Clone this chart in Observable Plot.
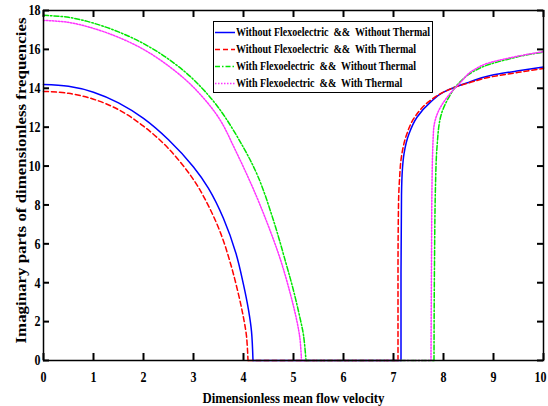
<!DOCTYPE html>
<html><head><meta charset="utf-8">
<script src="https://cdn.jsdelivr.net/npm/d3@7"></script>
<script src="https://cdn.jsdelivr.net/npm/@observablehq/plot@0.6"></script>
<style>
body{margin:0;background:#fff;}
#wrap{position:relative;width:548px;height:406px;overflow:hidden;}
#legend{position:absolute;left:213px;top:21px;width:220px;height:72px;border:1.5px solid #000;background:#fff;box-sizing:border-box;font-family:'Liberation Serif',serif;font-weight:bold;font-size:12px;}
.row{position:absolute;left:0;height:17px;line-height:17px;white-space:pre;}
.row svg{position:absolute;left:0;top:0;}
.row span{position:absolute;left:22px;top:0;display:inline-block;transform:scaleX(0.835);transform-origin:left center;}
</style></head><body><div id="wrap"></div>
<script>
// ---- data ----
const seriesNames = [
  "Without Flexoelectric  &&  Without Thermal",
  "Without Flexoelectric  &&  With Thermal",
  "With Flexoelectric  &&  Without Thermal",
  "With Flexoelectric  &&  With Thermal"
];
const xTicks = [0,1,2,3,4,5,6,7,8,9,10];
const yTicks = [0,2,4,6,8,10,12,14,16,18];

// Left branches (u, omega)
const blueLeftU  = [0, 0.5, 1, 1.5, 2, 2.5, 3.0, 3.3, 3.6, 3.85, 4.0, 4.1, 4.16, 4.19];
const blueLeftW  = [14.2, 14.1, 13.8, 13.25, 12.45, 11.35, 9.95, 8.85, 7.3, 5.5, 3.9, 2.6, 1.5, 0];
const redLeftU   = [0, 0.5, 1, 1.5, 2, 2.5, 3.0, 3.3, 3.55, 3.75, 3.9, 4.0, 4.06, 4.09];
const redLeftW   = [13.84, 13.74, 13.44, 12.9, 12.05, 10.9, 9.3, 7.95, 6.5, 4.9, 3.4, 2.2, 1.25, 0];
const greenLeftU = [0, 0.5, 1, 1.5, 2, 2.5, 3.0, 3.5, 4.0, 4.3, 4.6, 4.85, 5.0, 5.12, 5.2, 5.25];
const greenLeftW = [17.75, 17.65, 17.35, 16.9, 16.3, 15.5, 14.45, 13.0, 10.95, 9.4, 7.2, 5.0, 3.6, 2.3, 1.3, 0];
const magLeftU   = [0, 0.5, 1, 1.5, 2, 2.5, 3.0, 3.5, 3.85, 4.2, 4.5, 4.75, 4.95, 5.07, 5.13, 5.16];
const magLeftW   = [17.49, 17.39, 17.08, 16.62, 16.0, 15.15, 14.05, 12.5, 10.75, 8.8, 6.9, 5.1, 3.3, 2.0, 1.1, 0];

// Right branches (u, omega)
const blueRightU  = [7.15, 7.15, 7.16, 7.18, 7.21, 7.31, 7.47, 7.74, 8.0, 8.25, 8.5, 8.94, 9.5, 10];
const blueRightW  = [0, 4.5, 8.5, 9.9, 10.63, 11.66, 12.51, 13.29, 13.8, 14.08, 14.3, 14.66, 14.9, 15.09];
const redRightU   = [7.09, 7.09, 7.1, 7.12, 7.16, 7.26, 7.42, 7.7, 8.0, 8.25, 8.5, 8.94, 9.5, 10];
const redRightW   = [0, 4.5, 8.0, 9.3, 10.5, 11.6, 12.5, 13.3, 13.8, 14.08, 14.27, 14.58, 14.82, 15.02];
const greenRightU = [7.81, 7.82, 7.84, 7.87, 7.94, 8.11, 8.25, 8.4, 8.61, 8.94, 9.3, 9.61, 10];
const greenRightW = [0, 5.0, 9.0, 10.97, 12.51, 13.55, 14.1, 14.5, 14.88, 15.25, 15.5, 15.69, 15.86];
const magRightU   = [7.75, 7.76, 7.77, 7.8, 7.94, 8.14, 8.34, 8.61, 8.94, 9.3, 9.61, 10];
const magRightW   = [0, 5.0, 9.0, 11.8, 13.03, 13.75, 14.3, 14.95, 15.33, 15.55, 15.71, 15.88];

// ---- styles ----
const seriesColors = ["#0000ff", "#ff0000", "#00e600", "#ff33ff"];
const seriesDash = [null, "5,3", "5,2,1.5,2", "1.5,1.5"];

const branches = [
  [blueLeftU, blueLeftW, blueRightU, blueRightW],
  [redLeftU, redLeftW, redRightU, redRightW],
  [greenLeftU, greenLeftW, greenRightU, greenRightW],
  [magLeftU, magLeftW, magRightU, magRightW]
];

const marks = [];
branches.forEach(([lu, lw, ru, rw], i) => {
  const left = lu.map((u, k) => ({u, w: lw[k]}));
  const right = ru.map((u, k) => ({u, w: rw[k]}));
  const zero = [left[left.length - 1], right[0]];
  const st = {x: "u", y: "w", stroke: seriesColors[i], strokeWidth: 1.5, strokeDasharray: seriesDash[i]};
  marks.push(Plot.line(zero, {...st, curve: "linear"}));
  marks.push(Plot.line(left, {...st, curve: "catmull-rom"}));
  marks.push(Plot.line(right, {...st, curve: "monotone-y"}));
});

const W = 548, H = 406, mL = 43, mR = 5, mT = 10, mB = 46;
const pw = W - mL - mR, ph = H - mT - mB;

const chart = Plot.plot({
  width: W, height: H,
  marginLeft: mL, marginRight: mR, marginTop: mT, marginBottom: mB,
  style: {fontFamily: "'Liberation Serif', serif", fontWeight: "bold", fontSize: "15px", background: "white", color: "black", overflow: "visible"},
  x: {domain: [0, 10]},
  y: {domain: [0, 18]},
  marks: [
    ...marks,
    Plot.gridX({ticks: xTicks, stroke: "black", strokeOpacity: 1, strokeWidth: 2, insetTop: ph - 7}),
    Plot.gridX({ticks: xTicks, stroke: "black", strokeOpacity: 1, strokeWidth: 2, insetBottom: ph - 7}),
    Plot.gridY({ticks: yTicks, stroke: "black", strokeOpacity: 1, strokeWidth: 2, insetRight: pw - 6}),
    Plot.gridY({ticks: yTicks, stroke: "black", strokeOpacity: 1, strokeWidth: 2, insetLeft: pw - 6}),
    Plot.frame({stroke: "black", strokeWidth: 1.5}),
    Plot.axisX({ticks: xTicks, tickSize: 0, tickPadding: 11, label: "Dimensionless mean flow velocity", labelAnchor: "center", labelArrow: "none", labelOffset: 42}),
    Plot.axisY({ticks: yTicks, tickSize: 0, tickPadding: 3, label: "Imaginary parts of dimensionless frequencies", labelAnchor: "center", labelArrow: "none", labelOffset: 28})
  ]
});

const wrap = document.getElementById("wrap");
wrap.appendChild(chart);

// horizontally condensed text, as in the reference
const xt = chart.querySelectorAll('g[aria-label="x-axis tick label"] text');
chart.querySelectorAll('g[aria-label="x-axis tick label"] text, g[aria-label="y-axis tick label"] text').forEach(t => {
  const len = t.getComputedTextLength();
  if (len > 0) { t.setAttribute("textLength", (len * 0.8).toFixed(1)); t.setAttribute("lengthAdjust", "spacingAndGlyphs"); }
});
if (xt.length) xt[xt.length - 1].setAttribute("dx", "-3");
const xl = chart.querySelector('g[aria-label="x-axis label"] text');
if (xl) { xl.setAttribute("textLength", "182"); xl.setAttribute("lengthAdjust", "spacingAndGlyphs"); }
const yl = chart.querySelector('g[aria-label="y-axis label"] text');
if (yl) { yl.setAttribute("textLength", "326"); yl.setAttribute("lengthAdjust", "spacingAndGlyphs"); yl.setAttribute("dx", "5"); }

// legend
const lg = document.createElement("div");
lg.id = "legend";
seriesNames.forEach((name, i) => {
  const row = document.createElement("div");
  row.className = "row";
  row.style.top = (1.5 + i * 17) + "px";
  const d = seriesDash[i] ? `stroke-dasharray="${seriesDash[i]}"` : "";
  row.innerHTML = `<svg width="22" height="17"><line x1="1" x2="21" y1="8.5" y2="8.5" stroke="${seriesColors[i]}" stroke-width="1.5" ${d}/></svg><span></span>`;
  row.querySelector("span").textContent = name;
  lg.appendChild(row);
});
wrap.appendChild(lg);
</script>
</body></html>
